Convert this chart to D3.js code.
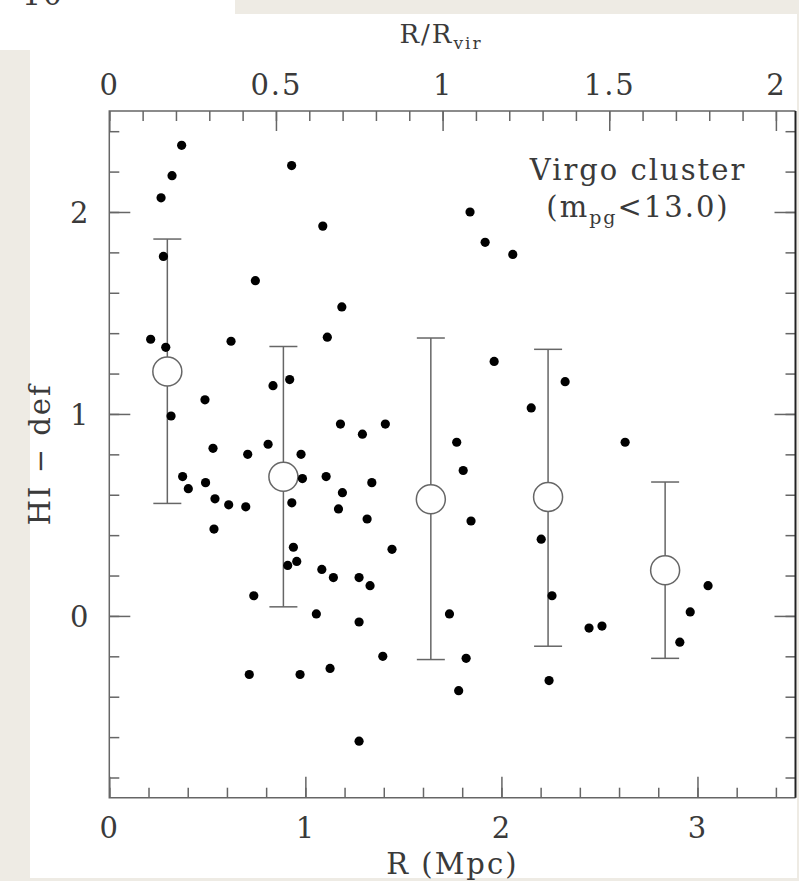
<!DOCTYPE html>
<html>
<head>
<meta charset="utf-8">
<script src="https://cdn.jsdelivr.net/npm/d3@7"></script>
<style>
  body { margin: 0; background: #eeebe4; }
  svg { display: block; }
  text { font-family: "DejaVu Serif", serif; fill: #3a3a3a; letter-spacing: 2px; }
</style>
</head>
<body>
<script>
// galaxies: projected distance from M87 (Mpc) and HI deficiency
var rMpc = [0.369, 0.32, 0.264, 0.93, 1.089, 0.276, 0.745, 1.186, 0.211, 0.288,
  0.621, 1.112, 0.835, 0.920, 0.488, 0.315, 0.529, 0.706, 0.810, 0.978,
  1.179, 1.291, 1.408, 0.374, 0.403, 0.491, 0.539, 0.609, 0.696, 0.534,
  0.985, 1.106, 1.189, 1.339, 0.931, 1.169, 1.315, 1.442, 0.939, 0.910,
  0.956, 1.084, 1.143, 1.274, 1.330, 0.737, 1.056, 1.274, 1.395, 0.714,
  0.973, 1.126, 1.274, 1.772, 1.805, 1.845, 1.735, 1.820, 1.782, 1.84,
  1.917, 2.058, 1.963, 2.152, 2.203, 2.258, 2.243, 2.325, 2.447, 2.513,
  2.631, 2.91, 2.963, 3.054]
var hiDef = [2.33, 2.18, 2.07, 2.23, 1.93, 1.78, 1.66, 1.53, 1.37, 1.33,
  1.36, 1.38, 1.14, 1.17, 1.07, 0.99, 0.83, 0.80, 0.85, 0.80,
  0.95, 0.90, 0.95, 0.69, 0.63, 0.66, 0.58, 0.55, 0.54, 0.43,
  0.68, 0.69, 0.61, 0.66, 0.56, 0.53, 0.48, 0.33, 0.34, 0.25,
  0.27, 0.23, 0.19, 0.19, 0.15, 0.10, 0.01, -0.03, -0.20, -0.29,
  -0.29, -0.26, -0.62, 0.86, 0.72, 0.47, 0.01, -0.21, -0.37, 2.00,
  1.85, 1.79, 1.26, 1.03, 0.38, 0.10, -0.32, 1.16, -0.06, -0.05,
  0.86, -0.13, 0.02, 0.15]

// binned averages with dispersion
var binR = [0.296, 0.888, 1.64, 2.238, 2.835]
var binMean = [1.21, 0.689, 0.578, 0.589, 0.226]
var binLow = [0.557, 0.045, -0.216, -0.15, -0.21]
var binHigh = [1.866, 1.334, 1.376, 1.32, 0.663]

var rVir = 1.7
var xTicks = [0, 1, 2, 3]
var yTicks = [0, 1, 2]
var topTicks = [0, 0.5, 1, 1.5, 2]

var W = 799, H = 881
var pL = 109.3, pR = 795.5, pT = 111, pB = 797.7

var svg = d3.select("body").append("svg").attr("width", W).attr("height", H)

// page background pieces
svg.append("rect").attr("x", 0).attr("y", 0).attr("width", 235).attr("height", 14).attr("fill", "#fff")
svg.append("rect").attr("x", 0).attr("y", 14).attr("width", 797).attr("height", 36).attr("fill", "#fff")
svg.append("rect").attr("x", 30).attr("y", 50).attr("width", 767).attr("height", 828).attr("fill", "#fff")
svg.append("text").attr("x", 22).attr("y", 5).style("font-size", "30px").text("10")

var x = d3.scaleLinear().domain([0, 3.5]).range([pL, pR])
var xTop = d3.scaleLinear().domain([0, 3.5 / rVir]).range([pL, pR])
var y = d3.scaleLinear().domain([-0.9, 2.5]).range([pB, pT])

var minorX = d3.range(0, 3.5001, 0.2)
var minorY = d3.range(-0.8, 2.5001, 0.2)
var minorTop = d3.range(0, 2.0001, 0.1)

function styleAxis(g) {
  g.select(".domain").remove()
  g.selectAll("line").attr("stroke", "#666").attr("stroke-width", 1.5)
  g.selectAll("text").style("font-size", "29px").attr("fill", "#3a3a3a")
}

// bottom
svg.append("g").attr("transform", "translate(0," + pB + ")")
  .call(d3.axisBottom(x).tickValues(minorX).tickSize(-10).tickFormat(""))
  .call(styleAxis)
var gb = svg.append("g").attr("transform", "translate(0," + pB + ")")
  .call(d3.axisBottom(x).tickValues(xTicks).tickSize(-21).tickFormat(d3.format("d")))
  .call(styleAxis)
gb.selectAll("text").attr("y", 40).attr("dy", 0)

// top (R / Rvir)
svg.append("g").attr("transform", "translate(0," + pT + ")")
  .call(d3.axisTop(xTop).tickValues(minorTop).tickSize(-10).tickFormat(""))
  .call(styleAxis)
var gt = svg.append("g").attr("transform", "translate(0," + pT + ")")
  .call(d3.axisTop(xTop).tickValues(topTicks).tickSize(-20).tickFormat(function(d) { return d }))
  .call(styleAxis)
gt.selectAll("text").attr("y", -16).attr("dy", 0)

// left
svg.append("g").attr("transform", "translate(" + pL + ",0)")
  .call(d3.axisLeft(y).tickValues(minorY).tickSize(-10).tickFormat(""))
  .call(styleAxis)
var gl = svg.append("g").attr("transform", "translate(" + pL + ",0)")
  .call(d3.axisLeft(y).tickValues(yTicks).tickSize(-21).tickFormat(d3.format("d")))
  .call(styleAxis)
gl.selectAll("text").attr("x", -29).attr("text-anchor", "middle").attr("dy", "0.36em")

// right
svg.append("g").attr("transform", "translate(" + pR + ",0)")
  .call(d3.axisRight(y).tickValues(minorY).tickSize(-10).tickFormat(""))
  .call(styleAxis)
svg.append("g").attr("transform", "translate(" + pR + ",0)")
  .call(d3.axisRight(y).tickValues(yTicks).tickSize(-21).tickFormat(""))
  .call(styleAxis)

// frame
svg.append("path")
  .attr("d", "M" + pR + "," + pT + "H" + pL + "V" + pB + "H" + pR)
  .attr("fill", "none").attr("stroke", "#666").attr("stroke-width", 1.5)
svg.append("line").attr("x1", pR).attr("x2", pR).attr("y1", pT).attr("y2", pB)
  .attr("stroke", "#222").attr("stroke-width", 2)

// axis titles
svg.append("text").attr("x", (pL + pR) / 2).attr("y", 874).attr("text-anchor", "middle")
  .style("font-size", "29px").text("R (Mpc)")
var tt = svg.append("text").attr("x", 441).attr("y", 43).attr("text-anchor", "middle").style("font-size", "26px")
tt.append("tspan").text("R/R")
tt.append("tspan").attr("dy", 6).style("font-size", "17px").text("vir")
svg.append("text").attr("transform", "translate(50," + (pT + pB) / 2 + ") rotate(-90)")
  .attr("text-anchor", "middle").style("font-size", "29px").text("HI \u2212 def")

// annotation
svg.append("text").attr("x", 638).attr("y", 180).attr("text-anchor", "middle")
  .style("font-size", "29px").text("Virgo cluster")
var ann = svg.append("text").attr("x", 638).attr("y", 217).attr("text-anchor", "middle").style("font-size", "29px")
ann.append("tspan").text("(m")
ann.append("tspan").attr("dy", 7).style("font-size", "19px").text("pg")
ann.append("tspan").attr("dy", -7).text("<13.0)")

// error bars and binned means
var bins = binR.map(function(r, i) { return {r: r, m: binMean[i], lo: binLow[i], hi: binHigh[i]} })
var eb = svg.append("g").attr("stroke", "#666").attr("stroke-width", 1.5).attr("fill", "none")
bins.forEach(function(b) {
  eb.append("line").attr("x1", x(b.r)).attr("x2", x(b.r)).attr("y1", y(b.hi)).attr("y2", y(b.m) - 14.5)
  eb.append("line").attr("x1", x(b.r)).attr("x2", x(b.r)).attr("y1", y(b.m) + 14.5).attr("y2", y(b.lo))
  eb.append("line").attr("x1", x(b.r) - 14).attr("x2", x(b.r) + 14).attr("y1", y(b.hi)).attr("y2", y(b.hi))
  eb.append("line").attr("x1", x(b.r) - 14).attr("x2", x(b.r) + 14).attr("y1", y(b.lo)).attr("y2", y(b.lo))
  eb.append("circle").attr("cx", x(b.r)).attr("cy", y(b.m)).attr("r", 14.5)
})

// galaxies
svg.append("g").selectAll("circle")
  .data(rMpc)
  .join("circle")
  .attr("cx", function(d) { return x(d) })
  .attr("cy", function(d, i) { return y(hiDef[i]) })
  .attr("r", 4.6)
  .attr("fill", "#000")
</script>
</body>
</html>
